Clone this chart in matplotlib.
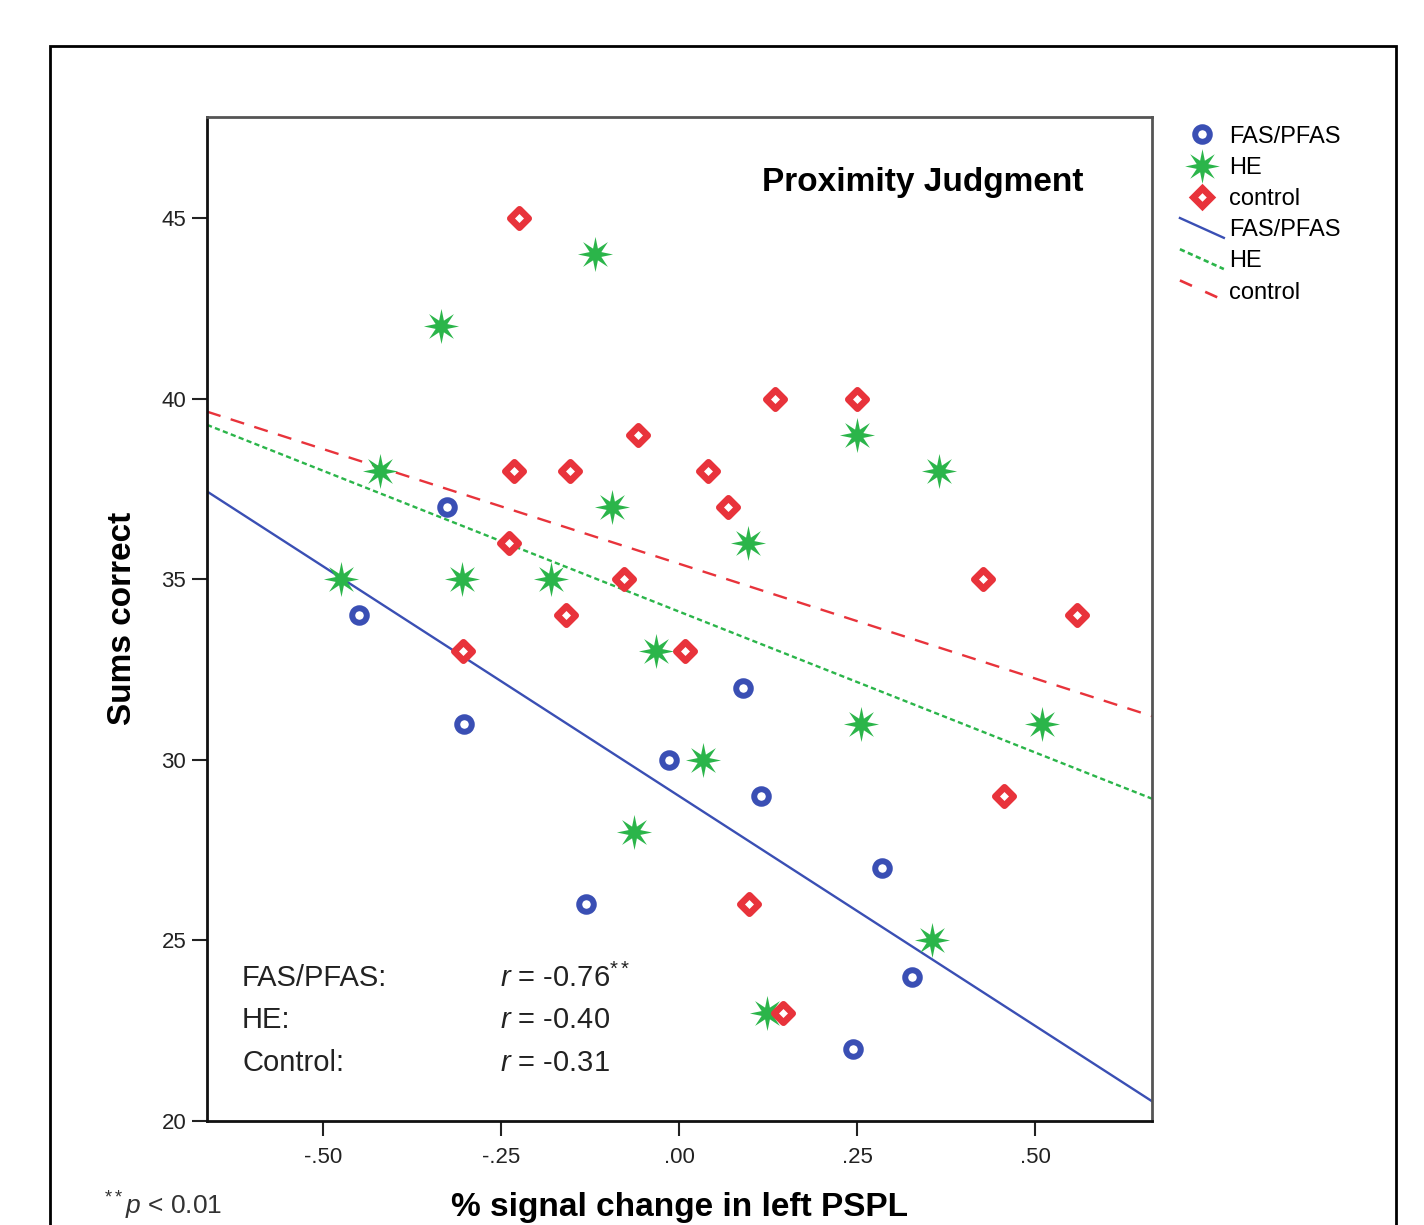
import matplotlib
matplotlib.use('Agg')
import matplotlib.pyplot as plt
from matplotlib.lines import Line2D
from matplotlib.patches import Rectangle
from matplotlib.path import Path
from matplotlib.legend_handler import HandlerLine2D
import numpy as np

plt.rcParams['font.family'] = ['Liberation Sans', 'DejaVu Sans']
plt.rcParams['mathtext.fontset'] = 'custom'
plt.rcParams['mathtext.rm'] = 'Liberation Sans'
plt.rcParams['mathtext.it'] = 'Liberation Sans:italic'

# FAS/PFAS group
fas_x = [-0.326, -0.449, -0.302, 0.090, -0.014, 0.115, -0.131, 0.285, 0.327, 0.244]
fas_y = [37, 34, 31, 32, 30, 29, 26, 27, 24, 22]

# HE group
he_x = [-0.118, -0.334, -0.420, -0.094, -0.475, -0.305, -0.180, -0.032, 0.096,
        0.250, 0.365, 0.256, 0.510, 0.034, -0.063, 0.355, 0.124]
he_y = [44, 42, 38, 37, 35, 35, 35, 33, 36, 39, 38, 31, 31, 30, 28, 25, 23]

# control group
ctl_x = [-0.225, 0.135, 0.250, -0.058, -0.232, -0.153, 0.041, 0.069, -0.239,
         -0.077, -0.159, 0.427, 0.558, -0.303, 0.008, 0.456, 0.098, 0.146]
ctl_y = [45, 40, 40, 39, 38, 38, 38, 37, 36, 35, 34, 35, 34, 33, 33, 29, 26, 23]

x_ticks = [-0.50, -0.25, 0.00, 0.25, 0.50]
x_ticklabels = ['-.50', '-.25', '.00', '.25', '.50']
y_ticks = [20, 25, 30, 35, 40, 45]
r_labels = ['FAS/PFAS:', 'HE:', 'Control:']
r_values = [r'$\mathit{r}$ = -0.76$^{**}$', r'$\mathit{r}$ = -0.40', r'$\mathit{r}$ = -0.31']

blue = '#3a4fb4'
green = '#2bb54a'
red = '#e8333b'


# thin 8-point star like the SPSS marker
def star_path(n=8, inner=0.36):
    ang = np.pi / 2 + np.arange(2 * n) * np.pi / n
    rad = np.where(np.arange(2 * n) % 2 == 0, 1.0, inner)
    verts = np.column_stack([rad * np.cos(ang), rad * np.sin(ang)])
    verts = np.vstack([verts, verts[:1]])
    codes = [Path.MOVETO] + [Path.LINETO] * (2 * n - 1) + [Path.CLOSEPOLY]
    return Path(verts, codes)


class DiagLine(HandlerLine2D):
    # legend line drawn on a slant
    def create_artists(self, legend, orig_handle, xdescent, ydescent,
                       width, height, fontsize, trans):
        line = Line2D([-xdescent, -xdescent + width],
                      [1.1 * height - ydescent, -0.1 * height - ydescent])
        line.update_from(orig_handle)
        line.set_transform(trans)
        return [line]


star = star_path()

fig = plt.figure(figsize=(14.24, 12.25), dpi=100)
ax = fig.add_axes([0.1454, 0.0849, 0.6636, 0.8196])

xlim = (-0.663, 0.664)
ax.set_xlim(*xlim)
ax.set_ylim(20, 47.8)

# regression lines
xx = np.array(xlim)
styles = [(fas_x, fas_y, blue, '-'),
          (he_x, he_y, green, (0, (2.2, 1.4))),
          (ctl_x, ctl_y, red, (0, (6, 4.5)))]
for xs, ys, col, ls in styles:
    k, b = np.polyfit(xs, ys, 1)
    ax.plot(xx, k * xx + b, color=col, linestyle=ls, linewidth=1.7, zorder=2)

ax.scatter(fas_x, fas_y, marker='o', s=110, facecolor='white', edgecolor=blue,
           linewidth=4.3, zorder=3)
ax.scatter(he_x, he_y, marker=star, s=640, color=green, linewidth=0, zorder=3)
ax.scatter(ctl_x, ctl_y, marker='D', s=88, facecolor='white', edgecolor=red,
           linewidth=4.8, zorder=3)

ax.set_xticks(x_ticks)
ax.set_xticklabels(x_ticklabels)
ax.set_yticks(y_ticks)
ax.tick_params(axis='both', direction='out', length=11, width=1.5, pad=4,
               labelsize=16, colors='#222222')
ax.tick_params(axis='x', pad=8)
for side in ['left', 'bottom']:
    ax.spines[side].set_linewidth(2)
    ax.spines[side].set_color('#111111')
for side in ['top', 'right']:
    ax.spines[side].set_linewidth(2)
    ax.spines[side].set_color('#555555')

ax.text(0.757, 0.935, 'Proximity Judgment', transform=ax.transAxes,
        ha='center', va='center', fontsize=24, fontweight='bold')

rows_y = [0.1424, 0.1006, 0.0578]
for lab, val, yy in zip(r_labels, r_values, rows_y):
    ax.text(0.037, yy, lab, transform=ax.transAxes, ha='left', va='center',
            fontsize=21, color='#222222')
    ax.text(0.310, yy, val, transform=ax.transAxes, ha='left', va='center',
            fontsize=21, color='#222222')

fig.text(0.4775, 0.0139, '% signal change in left PSPL', ha='center',
         va='center', fontsize=24, fontweight='bold')
fig.text(0.0857, 0.4955, 'Sums correct', ha='center', va='center',
         rotation=90, fontsize=24, fontweight='bold')
fig.text(0.073, 0.016, r'$^{**}\mathit{p}$ < 0.01', ha='left', va='center',
         fontsize=19, color='#333333')

# legend
line_handles = [
    Line2D([], [], color=blue, linewidth=1.7),
    Line2D([], [], color=green, linewidth=1.9, linestyle=(0, (2.0, 1.3))),
    Line2D([], [], color=red, linewidth=1.9, linestyle=(0, (5, 5.5))),
]
handles = [
    Line2D([], [], linestyle='none', marker='o', markersize=10.5,
           markerfacecolor='white', markeredgecolor=blue, markeredgewidth=4.3),
    Line2D([], [], linestyle='none', marker=star, markersize=25,
           color=green, markeredgewidth=0),
    Line2D([], [], linestyle='none', marker='D', markersize=9.4,
           markerfacecolor='white', markeredgecolor=red, markeredgewidth=4.8),
] + line_handles
labels = ['FAS/PFAS', 'HE', 'control', 'FAS/PFAS', 'HE', 'control']
fig.legend(handles, labels, loc='upper left', bbox_to_anchor=(0.8286, 0.8975),
           frameon=False, fontsize=17, handlelength=1.86, handletextpad=0.22,
           labelspacing=0.39, borderpad=0, borderaxespad=0,
           handler_map={h: DiagLine() for h in line_handles})

# outer frame
fig.patches.append(Rectangle((0.0351, -0.2), 0.9452, 1.1624, transform=fig.transFigure,
                             fill=False, edgecolor='black', linewidth=2))

fig.savefig('out.png', dpi=100)
